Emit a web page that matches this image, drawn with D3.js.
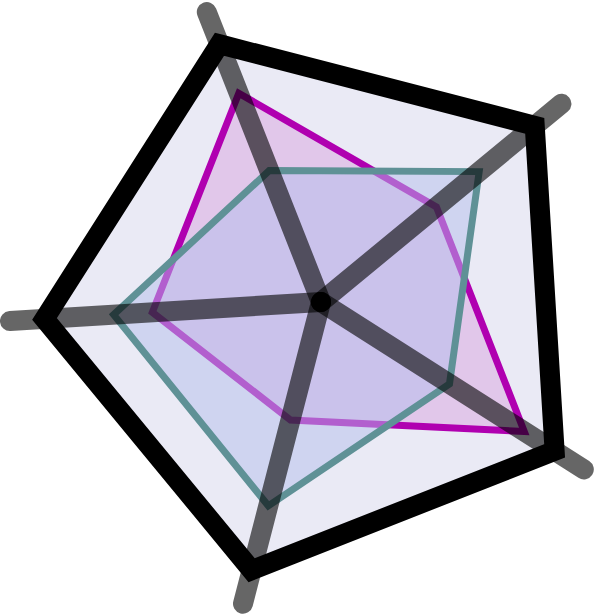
<!DOCTYPE html>
<html>
<head>
<meta charset="utf-8">
<script src="https://cdn.jsdelivr.net/npm/d3@7"></script>
<style>
  html, body { margin: 0; padding: 0; background: #ffffff; }
  svg { display: block; }
</style>
</head>
<body>
<svg id="chart" width="600" height="614"></svg>
<script>
// ---- data ----
const categories = ["A", "B", "C", "D", "E"];
const outerValues = [1, 1, 1, 1, 1];
const magentaValues = [0.81, 0.54, 0.87, 0.44, 0.61];
const tealValues = [0.51, 0.74, 0.55, 0.76, 0.75];
const axisExtent = 1.125;

// ---- layout ----
const W = 600, H = 614;
const cx = 321, cy = 302;
const R = 277;
const rotationDeg = -21.5;

const svg = d3.select("#chart");
const g = svg.append("g").attr("transform", `translate(${cx},${cy})`);

const r = d3.scaleLinear().domain([0, 1]).range([0, R]);
const angle = d3.scaleLinear()
  .domain([0, categories.length])
  .range([rotationDeg * Math.PI / 180, rotationDeg * Math.PI / 180 + 2 * Math.PI]);

const radial = d3.lineRadial()
  .angle((d, i) => angle(i))
  .radius(d => r(d))
  .curve(d3.curveLinearClosed);

// outer pentagon fill
g.append("path")
  .datum(outerValues)
  .attr("d", radial)
  .attr("fill", "#eaeaf5")
  .attr("stroke", "none");

// magenta series
g.append("path")
  .datum(magentaValues)
  .attr("d", radial)
  .attr("fill", "rgb(176,0,176)")
  .attr("fill-opacity", 0.15)
  .attr("stroke", "#b000b0")
  .attr("stroke-width", 7)
  .attr("stroke-linejoin", "miter");

// teal series
g.append("path")
  .datum(tealValues)
  .attr("d", radial)
  .attr("fill", "rgb(180,190,235)")
  .attr("fill-opacity", 0.5)
  .attr("stroke", "rgb(95,145,150)")
  .attr("stroke-width", 7)
  .attr("stroke-linejoin", "miter");

// axes
g.selectAll("line.axis")
  .data(categories)
  .join("line")
  .attr("class", "axis")
  .attr("x1", 0).attr("y1", 0)
  .attr("x2", (d, i) => r(axisExtent) * Math.sin(angle(i)))
  .attr("y2", (d, i) => -r(axisExtent) * Math.cos(angle(i)))
  .attr("stroke", "#000")
  .attr("stroke-opacity", 0.6)
  .attr("stroke-width", 20)
  .attr("stroke-linecap", "round");

// center dot
g.append("circle").attr("r", 10).attr("fill", "#000");

// outer pentagon outline
g.append("path")
  .datum(outerValues)
  .attr("d", radial)
  .attr("fill", "none")
  .attr("stroke", "#000")
  .attr("stroke-width", 20)
  .attr("stroke-linejoin", "miter");
</script>
</body>
</html>
